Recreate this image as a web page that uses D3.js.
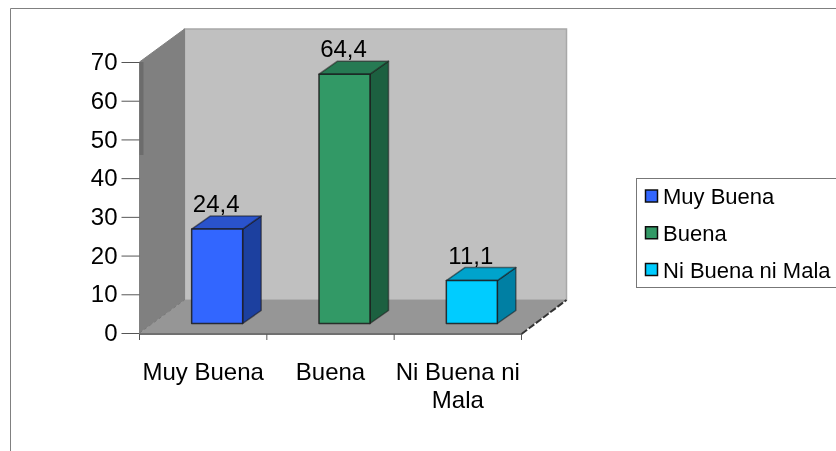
<!DOCTYPE html>
<html><head><meta charset="utf-8">
<script src="https://cdn.jsdelivr.net/npm/d3@7"></script>
<style>html,body{margin:0;padding:0;background:#fff}svg{display:block}text{font-family:"Liberation Sans",Arial,sans-serif;fill:#000}</style>
</head><body><svg id="c" width="836" height="451"></svg>
<script>
const categories = ["Muy Buena","Buena","Ni Buena ni Mala"];
const categoryLines = [["Muy Buena"],["Buena"],["Ni Buena ni","Mala"]];
const values = [24.4,64.4,11.1];
const labels = ["24,4","64,4","11,1"];
const ticks = [0,10,20,30,40,50,60,70];
const fronts = ["#3366ff","#339966","#00ccff"];
const tops = ["#2a52cc","#287a52","#00a3cc"];
const sides = ["#1f3f9f","#1f6040","#007fa3"];

const svg = d3.select("#c");
const x = d3.scaleBand().domain(categories).range([139.5,521.5]);
const y = d3.scaleLinear().domain([0,70]).range([333,62]);
const dx = 45, dy = -33;           // chart depth
const bdx = 18.5, bdy = -13;       // bar depth
const offX = 14, offY = -9.5;      // bar offset within depth
const barW = 51;
const x0 = x.range()[0], x1 = x.range()[1], yb = y(0), yt = y(70);
const poly = p => p.map(q => q.join(",")).join(" ");

svg.append("defs").append("filter").attr("id","soft").append("feGaussianBlur").attr("stdDeviation",0.45);
const root = svg.append("g").attr("filter","url(#soft)");

// outer frame
root.append("path").attr("d","M836,8.5H10.5V451").attr("fill","none").attr("stroke","#808080").attr("stroke-width",1);

// walls and floor
root.append("polygon").attr("points",poly([[x0+dx,yt+dy],[x1+dx,yt+dy],[x1+dx,yb+dy],[x0+dx,yb+dy]]))
  .attr("fill","#c0c0c0").attr("stroke","#a8a8a8").attr("stroke-width",1.5);
root.append("polygon").attr("points",poly([[x0,yt],[x0+dx,yt+dy],[x0+dx,yb+dy],[x0,yb]]))
  .attr("fill","#808080").attr("stroke","#808080").attr("stroke-width",1);
root.append("rect").attr("x",x0).attr("y",yt).attr("width",4).attr("height",93).attr("fill","#6c6c6c");
root.append("polygon").attr("points",poly([[x0,yb],[x1,yb],[x1+dx,yb+dy],[x0+dx,yb+dy]]))
  .attr("fill","#969696");
root.append("line").attr("x1",x0).attr("x2",x1).attr("y1",yb+1).attr("y2",yb+1).attr("stroke","#707070").attr("stroke-width",2);
root.append("line").attr("x1",x1).attr("x2",x1+dx).attr("y1",yb+1).attr("y2",yb+dy).attr("stroke","#333").attr("stroke-width",2).attr("stroke-dasharray","7 2");
root.append("line").attr("x1",x0).attr("x2",x0+dx).attr("y1",yb).attr("y2",yb+dy).attr("stroke","#777").attr("stroke-width",1).attr("stroke-dasharray","3 3");

// axes
const yAxis = d3.axisLeft(y).tickValues(ticks).tickSize(18).tickPadding(3);
const ya = root.append("g").attr("transform",`translate(${x0},0)`).call(yAxis);
ya.select(".domain").remove();
ya.selectAll("line").attr("stroke","#555");
ya.selectAll("text").style("font-size","24px").attr("dx",-1);

const xAxisTicks = root.append("g");
xAxisTicks.selectAll("line").data([...categories.map(c=>x(c)),x1]).join("line")
  .attr("x1",d=>d).attr("x2",d=>d).attr("y1",yb+1).attr("y2",yb+7).attr("stroke","#555");

root.append("g").selectAll("text").data(categoryLines).join("text")
  .attr("text-anchor","middle").style("font-size","24px")
  .each(function(lines,i){
    d3.select(this).selectAll("tspan").data(lines).join("tspan")
      .attr("x",x(categories[i])+x.bandwidth()/2)
      .attr("y",(l,j)=>380+j*28).text(l=>l);
  });

// bars
const bars = root.append("g").selectAll("g").data(categories).join("g");
bars.each(function(c,i){
  const g = d3.select(this);
  const l = x(c)+(x.bandwidth()-barW)/2+offX, r = l+barW;
  const b = yb+offY, t = y(values[i])+offY;
  const st = {"stroke":"#1a1a1a","stroke-width":1.5,"stroke-linejoin":"round"};
  const apply = s => { for (const k in st) s.attr(k,st[k]); return s; };
  apply(g.append("polygon").attr("points",poly([[r,t],[r+bdx,t+bdy],[r+bdx,b+bdy],[r,b]])).attr("fill",sides[i]).attr("stroke-opacity",.55));
  apply(g.append("polygon").attr("points",poly([[l,t],[l+bdx,t+bdy],[r+bdx,t+bdy],[r,t]])).attr("fill",tops[i]).attr("stroke-opacity",.55));
  apply(g.append("rect").attr("x",l).attr("y",t).attr("width",barW).attr("height",b-t).attr("fill",fronts[i]).attr("stroke-opacity",.85));
  g.append("text").attr("x",(l+r)/2-1).attr("y",t+bdy-4).attr("text-anchor","middle").style("font-size","24px").text(labels[i]);
});

// legend
const lg = root.append("g");
lg.append("rect").attr("x",636.5).attr("y",178.5).attr("width",205).attr("height",109).attr("fill","#fff").attr("stroke","#777");
const ly = d3.scalePoint().domain(categories).range([196,269.5]);
const li = lg.selectAll("g").data(categories).join("g").attr("transform",c=>`translate(0,${ly(c)})`);
li.append("rect").attr("x",645.5).attr("y",-6).attr("width",12).attr("height",12).attr("fill",(c,i)=>fronts[i]).attr("stroke","#111").attr("stroke-width",1.5);
li.append("text").attr("x",663).attr("y",8).style("font-size","22px").text(c=>c);
</script></body></html>
